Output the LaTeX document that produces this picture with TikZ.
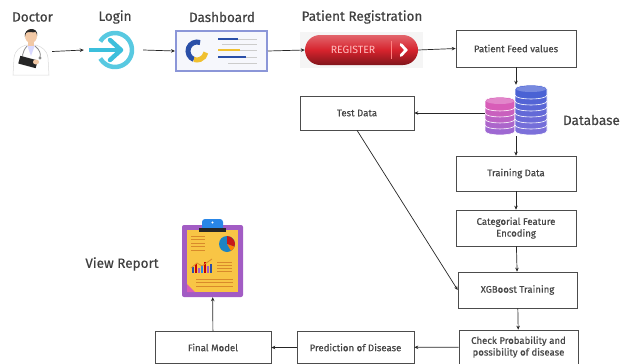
\documentclass[tikz,border=0pt]{standalone}
\usepackage{fontspec}
\setmainfont{Fira Sans}
\newfontfamily\medfont[FakeBold=0.5]{Fira Sans}
\usetikzlibrary{positioning,arrows.meta,calc}
\definecolor{loginblue}{HTML}{3BBFDC}
\definecolor{dashframe}{HTML}{8B96D8}
\definecolor{dashblue}{HTML}{2A4FA8}
\definecolor{dashyellow}{HTML}{F0C030}
\definecolor{regred}{HTML}{D6232D}
\definecolor{dbpink}{HTML}{D85DB8}
\definecolor{dbviolet}{HTML}{9E68D2}
\definecolor{dbblue}{HTML}{4A62D4}
\definecolor{dbpurple}{HTML}{7C70DA}
\definecolor{reppurple}{HTML}{A25CC4}
\definecolor{repyellow}{HTML}{F8C545}
\definecolor{repink}{HTML}{D98A2B}
\definecolor{skin}{HTML}{F2C9A6}

\begin{document}
\begin{tikzpicture}[x=1pt, y=-1pt,
    every node/.style={font=\medfont\fontsize{9.6}{11.7}\selectfont, text=black!72},
    box/.style={draw=black!70, line width=0.6pt, fill=white, align=center, inner sep=2pt},
    title/.style={font=\medfont\fontsize{13.5}{15}\selectfont, text=black!75},
    arr/.style={-{Stealth[length=4pt, width=3.5pt]}, line width=0.7pt, black!85}]
  \useasboundingbox (0,0) rectangle (621,364);

  % top row: doctor -> login -> dashboard -> register
  \node[minimum width=42, minimum height=47] (doc) at (31,51.5) {};
  \node[title] at (32.5,17) {Doctor};
  \fill[white, draw=black!15, line width=0.5pt] (13,75) -- (14,58) .. controls (15,50) and (20,47) .. (26,45)
     -- (36,45) .. controls (42,47) and (47,50) .. (48,58) -- (49,75) -- cycle;
  \fill[blue!15] (27,45) -- (35,45) -- (31,56) -- cycle;
  \fill[skin] (28,40) rectangle (34,46);
  \fill[skin] (31,36) ellipse [x radius=6, y radius=7];
  \fill[black!85] (24.8,37) .. controls (23.5,27) and (38.5,26) .. (37.2,36) -- (36,32) .. controls (32,33) and (28,31) .. (26,33) -- cycle;
  \draw[black!45, line width=0.8pt] (27,46) .. controls (22,52) and (21,58) .. (25,62);
  \draw[black!45, line width=0.8pt] (35,46) .. controls (40,50) and (41,54) .. (40,57);
  \fill[black!45] (40,58) circle (1.6);
  \fill[black!85, rotate around={-15:(28,62)}] (19,58) rectangle (37,66);
  \fill[skin] (36,62) ellipse [x radius=3, y radius=2.5];

  \node[minimum width=59, minimum height=42] (login) at (113.5,50) {};
  \node[title] at (115,17) {Login};
  \draw[loginblue!85, line width=4.5pt] (115,50) ++(-150:17) arc[start angle=-150, end angle=150, radius=17];
  \draw[loginblue, line width=4.5pt] (89,50) -- (120,50);
  \draw[loginblue, line width=4.5pt, line join=round, line cap=round] (110,40) -- (121,50) -- (110,60);

  \node[draw=dashframe, line width=2pt, fill=dashframe!8, minimum width=91, minimum height=40] (dash) at (221.5,51) {};
  \node[title] at (222,17) {Dashboard};
  \draw[dashblue, line width=5pt] (197,51) ++(110:9) arc[start angle=110, end angle=290, radius=9];
  \draw[dashyellow, line width=5pt] (197,51) ++(10:9) arc[start angle=10, end angle=110, radius=9];
  \foreach \yy/\len/\col in {39/20/dashblue, 50/22/dashyellow, 57/28/dashblue} {
    \draw[black!20, line width=0.8pt] (218,\yy) -- (257,\yy);
    \draw[\col, line width=2.6pt] (218,\yy) -- ++(\len,0);
  }
  \draw[black!20, line width=0.8pt] (222,44) -- (257,44);
  \draw[black!20, line width=0.8pt] (228,63) -- (257,63);

  \fill[black!4] (300,32) rectangle (423,68);
  \node[top color=regred!70!white, bottom color=regred!60!black, middle color=regred,
        rounded corners=15pt, minimum width=113, minimum height=30] (reg) at (361.5,50) {};
  \node[title] at (362,17) {Patient Registration};
  \node[text=red!25!white, font=\fontsize{10.5}{12}\selectfont] at (353,49.5) {REGISTER};
  \draw[red!50!white, line width=0.5pt] (391,41) -- (391,59);
  \draw[white, line width=2.8pt, line cap=round] (401,44.5) -- (406,50) -- (401,55.5);

  \draw[arr] (doc.east) -- (login.west);
  \draw[arr] (login.east) -- (dash.west);
  \draw[arr] (dash.east) -- (reg.west);

  % right column
  \node[box, minimum width=120, minimum height=37] (feed) at (516,48.5) {Patient Feed values};
  \draw[arr] (reg.east) -- (feed.west);

  \node[minimum width=62, minimum height=51] (db) at (516,110.5) {};
  \node[title, anchor=east, inner sep=1pt] at (621,120) {Database};
  \foreach \cx/\rx/\n/\ca/\cb in {500/15/4/dbpink/dbviolet, 531/16/6/dbblue/dbpurple} {
    \foreach \i in {0,...,\n} {
      \pgfmathsetmacro\yy{125-6*\i}
      \pgfmathtruncatemacro\p{100*\i/\n}
      \fill[\ca!\p!\cb, draw=white, line width=0.6pt]
        (\cx-\rx,\yy) -- (\cx-\rx,\yy+6) .. controls (\cx-\rx,\yy+11.3) and (\cx+\rx,\yy+11.3) .. (\cx+\rx,\yy+6)
        -- (\cx+\rx,\yy) .. controls (\cx+\rx,\yy-5.3) and (\cx-\rx,\yy-5.3) .. (\cx-\rx,\yy) -- cycle;
      \fill[\ca!\p!\cb!75!white] (\cx,\yy) ellipse [x radius=\rx-1, y radius=3];
    }
  }
  \draw[arr] (feed.south) -- (db.north);

  \node[box, minimum width=114, minimum height=34] (test) at (357,113) {Test Data};
  \draw[arr] (db.west |- test.east) -- (test.east);

  \node[box, minimum width=120, minimum height=35] (train) at (516,173.5) {Training Data};
  \node[box, minimum width=120, minimum height=36] (enc) at (516,228) {Categorial Feature\\Encoding};
  \node[box, minimum width=119, minimum height=36] (xgb) at (517.5,290) {XGBoost Training};
  \node[box, minimum width=119, minimum height=34] (check) at (518.5,347) {Check Probability and\\possibility of disease};
  \draw[arr] (db.south) -- (train.north);
  \draw[arr] (train) -- (enc);
  \draw[arr] (enc) -- (xgb);
  \draw[arr] (xgb) -- (check);
  \draw[arr] (test.south) -- (xgb.west);

  % bottom row, right to left
  \node[box, minimum width=117, minimum height=32] (pred) at (355.5,347.5) {Prediction of Disease};
  \node[box, minimum width=116, minimum height=32] (final) at (213,347.5) {Final Model};
  \draw[arr] (check) -- (pred);
  \draw[arr] (pred) -- (final);

  % report clipboard
  \node[fill=reppurple, rounded corners=2pt, minimum width=61, minimum height=72] (report) at (212.5,261) {};
  \node[title] at (122,264) {View Report};
  \fill[repyellow] (187,230) rectangle (238,292);
  \fill[dbpink] (187,284) -- (195,292) -- (187,292) -- cycle;
  \fill[loginblue!70!blue, rounded corners=3pt] (202,219) rectangle (223,231);
  \fill[black!85] (199,228) rectangle (226,232);
  \fill[white] (212.5,222.5) circle (1.2);
  \foreach \yy in {236,239.5,243,246.5,250}
    \draw[repink, line width=1pt] (191,\yy) -- (205,\yy);
  \fill[dashblue!70!cyan] (227,244) circle (8);
  \fill[red!75!black!90!white] (227,244) -- ++(-90:8) arc[start angle=-90, end angle=20, radius=8] -- cycle;
  \fill[orange] (227,244) -- ++(20:8) arc[start angle=20, end angle=60, radius=8] -- cycle;
  \foreach \xx/\hh/\col in {192/6/dashblue, 195/9/red!80!black, 198/5/reppurple, 201/8/loginblue!70!blue, 204/11/red!80!black, 207/7/reppurple, 210/9/dashblue}
    \fill[\col] (\xx,273) rectangle ++(2,-\hh);
  \draw[repink, line width=0.8pt] (191,268) -- (197,263) -- (202,266) -- (212,259);
  \foreach \yy in {262,265,268,271}
    \draw[repink, line width=0.8pt] (217,\yy) -- (232,\yy);
  \foreach \yy in {279,282.5,286}
    \draw[repink, line width=0.8pt] (196,\yy) -- (233,\yy);
  \draw[arr] (final) -- (report);
\end{tikzpicture}
\end{document}
